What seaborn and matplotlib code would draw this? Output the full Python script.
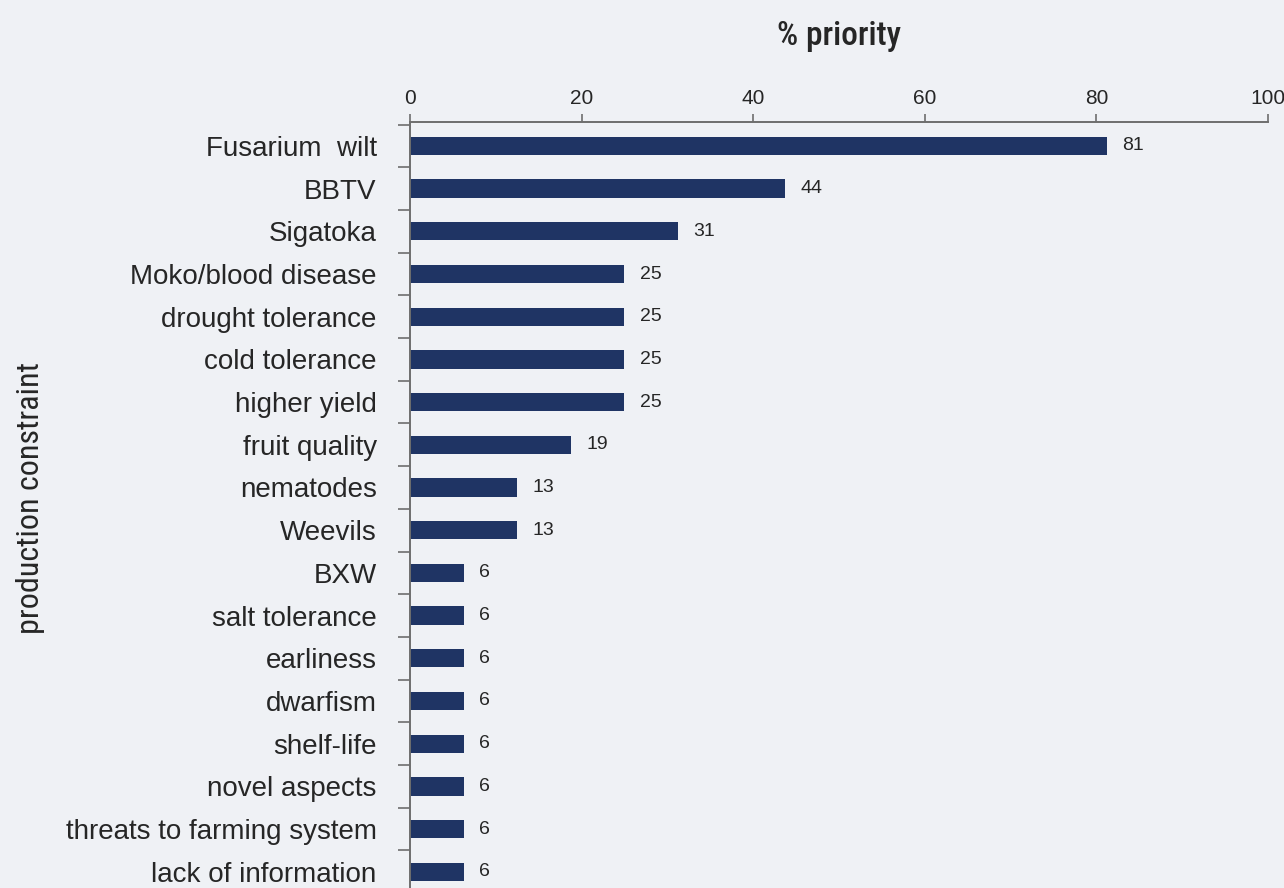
import matplotlib
matplotlib.use('Agg')
import matplotlib.pyplot as plt
import seaborn as sns
from matplotlib import font_manager
from matplotlib.ticker import FixedLocator

# data (bar lengths look like multiples of 1/16)
categories = ['Fusarium  wilt', 'BBTV', 'Sigatoka', 'Moko/blood disease',
              'drought tolerance', 'cold tolerance', 'higher yield',
              'fruit quality', 'nematodes', 'Weevils', 'BXW', 'salt tolerance',
              'earliness', 'dwarfism', 'shelf-life', 'novel aspects',
              'threats to farming system', 'lack of information']
priority = [81.25, 43.75, 31.25, 25, 25, 25, 25, 18.75, 12.5, 12.5,
            6.25, 6.25, 6.25, 6.25, 6.25, 6.25, 6.25, 6.25]
value_labels = ['81', '44', '31', '25', '25', '25', '25', '19', '13', '13',
                '6', '6', '6', '6', '6', '6', '6', '6']
x_ticks = [0, 20, 40, 60, 80, 100]

bg = '#eff1f5'
bar_color = '#1f3464'
axis_color = '#6e6e6e'
text_color = '#262626'

sns.set_style('white')
plt.rcParams['font.family'] = ['Liberation Sans', 'DejaVu Sans']

# narrow font for the axis titles, whatever is installed
installed = {f.name for f in font_manager.fontManager.ttflist}
narrow_kw = {'family': ['DejaVu Sans'], 'fontstretch': 'condensed'}
for name in ['Liberation Sans Narrow', 'Roboto Condensed', 'Open Sans Condensed']:
    if name in installed:
        narrow_kw = {'family': [name, 'DejaVu Sans']}
        break

fig = plt.figure(figsize=(12.84, 8.88), dpi=100, facecolor=bg)
ax = fig.add_axes([0.3193, 0.0, 0.6682, 0.8626])
ax.set_facecolor(bg)

sns.barplot(x=priority, y=categories, orient='h', color=bar_color,
            width=0.43, saturation=1, linewidth=0, ax=ax)

ax.bar_label(ax.containers[0], labels=value_labels, padding=11,
             fontsize=14, color=text_color)

ax.set_xlim(0, 100)
ax.set_ylim(17.38, -0.56)
ax.xaxis.set_ticks_position('top')
ax.xaxis.set_label_position('top')
ax.set_xticks(x_ticks)
ax.tick_params(axis='x', which='major', top=True, direction='out', length=6,
               width=1.2, color=axis_color, labelsize=15,
               labelcolor=text_color, pad=4)

# category labels without tick marks, separators as minor ticks
ax.tick_params(axis='y', which='major', left=False, length=0, labelsize=20,
               labelcolor=text_color, pad=24)
ax.yaxis.set_minor_locator(FixedLocator([k - 0.5 for k in range(len(categories) + 1)]))
ax.tick_params(axis='y', which='minor', left=True, direction='out', length=9,
               width=1.2, color=axis_color)

for side in ['right', 'bottom']:
    ax.spines[side].set_visible(False)
for side in ['top', 'left']:
    ax.spines[side].set_color(axis_color)
    ax.spines[side].set_linewidth(1.4)

ax.set_xlabel('')
ax.set_ylabel('')
fig.text(0.6535, 0.959, '% priority', ha='center', va='center',
         fontsize=24, fontweight='medium', color=text_color, **narrow_kw)
fig.text(0.024, 0.439, 'production constraint', ha='center', va='center',
         rotation=90, fontsize=23, color=text_color, **narrow_kw)

fig.savefig('out.png', dpi=100, facecolor=bg)
